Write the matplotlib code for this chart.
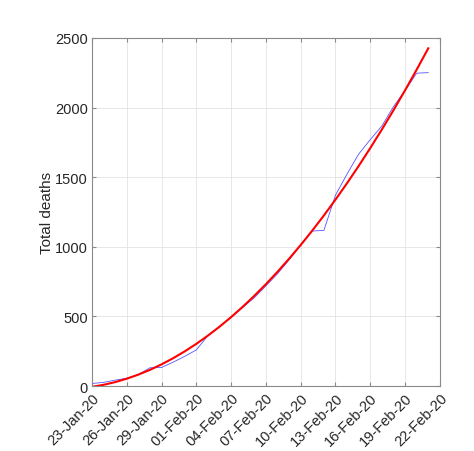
import numpy as np
import pandas as pd
import matplotlib
matplotlib.use('Agg')
import matplotlib.pyplot as plt
import matplotlib.dates as mdates

plt.rcParams['font.family'] = ['Liberation Sans', 'DejaVu Sans']

# daily cumulative deaths, 23-Jan-20 .. 21-Feb-20
dates = pd.date_range('2020-01-23', '2020-02-21', freq='D')
deaths = [18, 26, 42, 56, 82, 131, 133, 171, 213, 259,
          362, 426, 492, 564, 634, 719, 806, 906, 1013, 1113,
          1118, 1371, 1523, 1666, 1770, 1868, 2007, 2122, 2247, 2251]

# fitted curve, same dates
fit = [-6, 8.5, 27.9, 52.4, 81.7, 116.0, 155.3, 199.5, 248.7, 302.8,
       361.9, 426.0, 495.0, 569.0, 647.8, 731.6, 820.4, 914.2, 1012.8, 1116.6,
       1225.2, 1338.8, 1457.3, 1580.8, 1709.3, 1842.6, 1981.0, 2124.2, 2272.6, 2425.8]

tick_dates = pd.date_range('2020-01-23', '2020-02-22', freq='3D')

fig = plt.figure(figsize=(4.74, 4.52), dpi=100)
ax = fig.add_axes([0.194, 0.1438, 0.734, 0.77])

ax.plot(dates, deaths, c='#5555ff', lw=0.6)
ax.plot(dates, fit, c='red', lw=1.5)

ax.set_xlim(tick_dates[0], tick_dates[-1])
ax.set_ylim(0, 2500)
ax.set_xticks(tick_dates)
ax.xaxis.set_major_formatter(mdates.DateFormatter('%d-%b-%y'))
ax.set_yticks(np.arange(0, 2501, 500))
plt.setp(ax.get_xticklabels(), rotation=45, ha='right', rotation_mode='anchor')

ax.grid(True, color='#e3e3e3', lw=0.6)
ax.set_axisbelow(True)
for s in ax.spines.values():
    s.set_color('#8a8a8a')
    s.set_linewidth(0.8)
ax.tick_params(direction='in', top=True, right=True, colors='#8a8a8a',
               labelcolor='#262626', labelsize=10.5, length=3, pad=3)

ax.set_ylabel('Total deaths', fontsize=11, color='#262626', labelpad=1)

plt.savefig('out.png', dpi=100)
